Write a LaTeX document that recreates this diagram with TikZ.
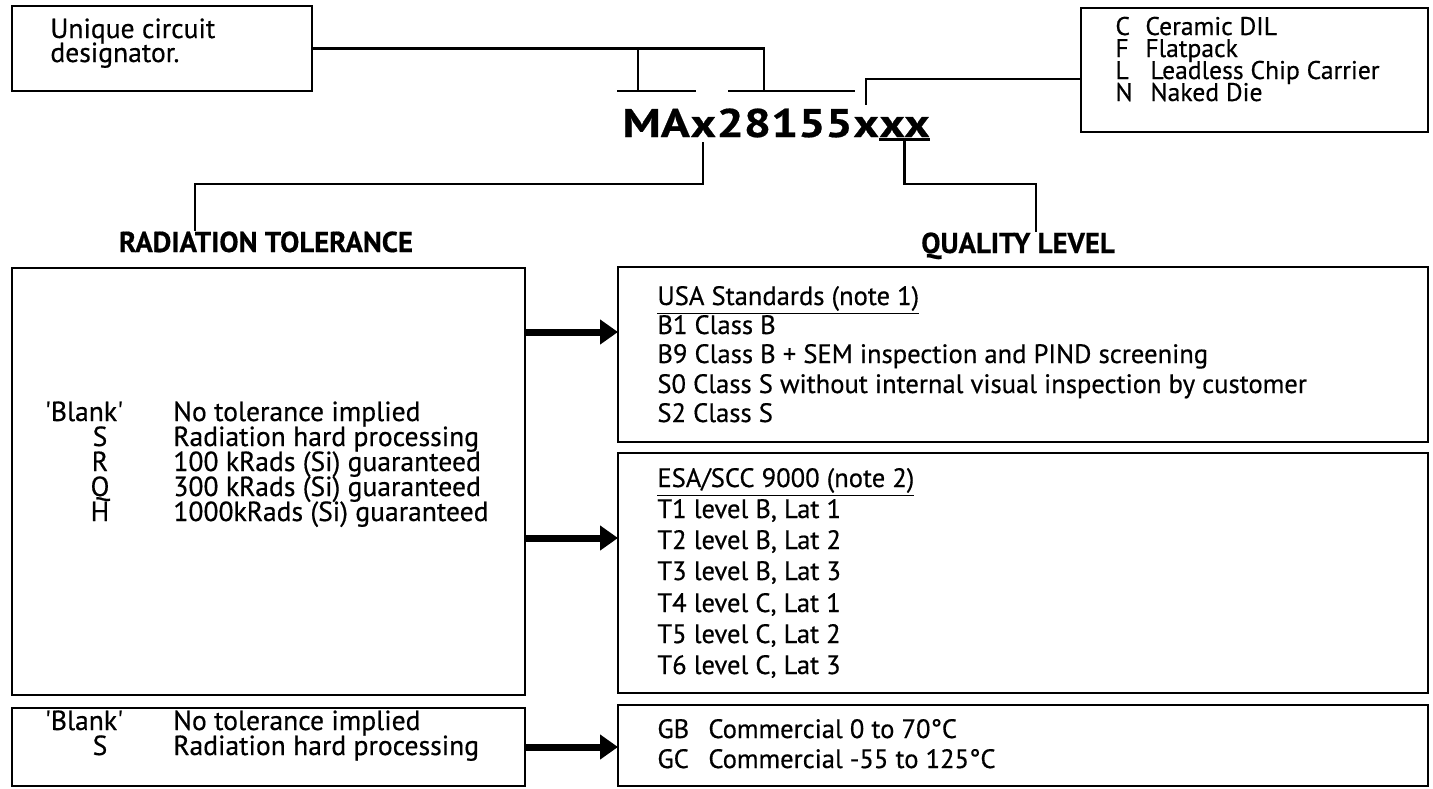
\documentclass[tikz,border=0pt]{standalone}
\usepackage{fontspec}
\setmainfont{PT Sans}[FakeBold=0.5]
\usetikzlibrary{arrows.meta}
\begin{document}
\begin{tikzpicture}[x=0.5pt,y=-0.5pt,
  box/.style={draw,line width=1.2pt,inner sep=0pt,outer sep=0pt},
  ln/.style={line width=1.1pt},
  txt/.style={anchor=base west,inner sep=0pt,font=\fontsize{13.8}{16}\selectfont},
  ptxt/.style={anchor=base west,inner sep=0pt,font=\fontsize{12.8}{15}\selectfont},
  qtxt/.style={anchor=base west,inner sep=0pt,font=\fontsize{13.3}{16}\selectfont},
  ctr/.style={anchor=base,inner sep=0pt,font=\fontsize{13.8}{16}\selectfont},
  lab/.style={anchor=base,inner sep=0pt,font=\bfseries\fontsize{14.4}{17}\selectfont},
  big/.style={anchor=base west,inner sep=0pt,font=\bfseries\fontsize{20}{24}\selectfont},
  bigarrow/.style={line width=3.5pt,-{Triangle[length=9pt,width=12pt]}}]
\useasboundingbox (0,0) rectangle (1433,788);

% boxes
\node[box,minimum width=150pt,minimum height=42.5pt] (b1) at (162,48.5) {};
\node[box,minimum width=173.5pt,minimum height=62pt] (b3) at (1254.5,70) {};
\node[box,minimum width=256.5pt,minimum height=213.5pt] (rt) at (268.5,481.5) {};
\node[box,minimum width=256.5pt,minimum height=39pt] (rt2) at (268.5,747) {};
\node[box,minimum width=405pt,minimum height=87.5pt] (ql1) at (1023,354.5) {};
\node[box,minimum width=405pt,minimum height=120pt] (ql2) at (1023,573) {};
\node[box,minimum width=405pt,minimum height=40.5pt] (ql3) at (1023,745.5) {};

% box 1 text
\node[txt] (t11) at (50,38) {Unique circuit};
\node[txt] (t12) at (50,62) {designator.};

% box 3 text
\node[ptxt] (p1) at (1115,35) {C};  \node[ptxt] (p1t) at (1145,35) {Ceramic DIL};
\node[ptxt] (p2) at (1115,57) {F};  \node[ptxt] (p2t) at (1145,57) {Flatpack};
\node[ptxt] (p3) at (1115,79) {L};  \node[ptxt] (p3t) at (1150,79) {Leadless Chip Carrier};
\node[ptxt] (p4) at (1115,101) {N};  \node[ptxt] (p4t) at (1150,101) {Naked Die};

% part number
\node[big] (ma) at (622,137) {\scalebox{1.2}[1]{MA}};
\node[big] (xr) at (ma.base east) {\scalebox{1.2}[1]{x}};
\node[big] (num) at (xr.base east) {\scalebox{1.2}[1]{28155}};
\node[big] (xp) at (num.base east) {\scalebox{1.2}[1]{x}};
\node[big] (xq) at (xp.base east) {\scalebox{1.2}[1]{xx}};

% labels
\node[lab] (rlab) at (266,252) {RADIATION TOLERANCE};
\node[lab] (qlab) at (1018,253) {QUALITY LEVEL};

% radiation text
\node[ctr] (r0) at (84,421) {\textquotesingle Blank\textquotesingle};
\node[txt] (r0t) at (173,421) {No tolerance implied};
\node[ctr] (r1) at (100,446) {S}; \node[txt] (r1t) at (173,446) {Radiation hard processing};
\node[ctr] (r2) at (100,471) {R}; \node[txt] (r2t) at (173,471) {100 kRads (Si) guaranteed};
\node[ctr] (r3) at (100,496) {Q}; \node[txt] (r3t) at (173,496) {300 kRads (Si) guaranteed};
\node[ctr] (r4) at (100,521) {H}; \node[txt] (r4t) at (173,521) {1000kRads (Si) guaranteed};

\node[ctr] (s0) at (84,730) {\textquotesingle Blank\textquotesingle};
\node[txt] (s0t) at (173,730) {No tolerance implied};
\node[ctr] (s1) at (100,755) {S}; \node[txt] (s1t) at (173,755) {Radiation hard processing};

% quality text
\node[qtxt] (u0) at (657,305) {\underline{USA Standards (note 1)}};
\node[qtxt] (u1) at (657,334) {B1 Class B};
\node[qtxt] (u2) at (657,363) {B9 Class B + SEM inspection and PIND screening};
\node[qtxt] (u3) at (657,393) {S0 Class S without internal visual inspection by customer};
\node[qtxt] (u4) at (657,422) {S2 Class S};

\node[qtxt] (e0) at (657,487) {\underline{ESA/SCC 9000 (note 2)}};
\node[qtxt] (e1) at (657,518) {T1 level B, Lat 1};
\node[qtxt] (e2) at (657,549) {T2 level B, Lat 2};
\node[qtxt] (e3) at (657,580) {T3 level B, Lat 3};
\node[qtxt] (e4) at (657,612) {T4 level C, Lat 1};
\node[qtxt] (e5) at (657,643) {T5 level C, Lat 2};
\node[qtxt] (e6) at (657,674) {T6 level C, Lat 3};

\node[qtxt] (g1) at (657,738) {GB}; \node[qtxt] (g1t) at (708,738) {Commercial 0 to 70°C};
\node[qtxt] (g2) at (657,768) {GC}; \node[qtxt] (g2t) at (708,768) {Commercial -55 to 125°C};

% connectors at the top
\coordinate (jL) at (638,91);
\coordinate (jR) at (764,91);
\draw[ln] (617,91) -- (696,91);
\draw[ln] (728,91) -- (855,91);
\draw[ln] (b1.east) -| (jR);
\draw[ln] (jL) -- (jL |- b1.east);
\draw[ln] ([yshift=-4.5pt]b3.west) -| ([yshift=6pt]xp.north);

% underline of last xx
\draw[ln] ([yshift=-1pt]xq.south west) -- ([yshift=-1pt]xq.south east);

% connectors down to labels
\coordinate (rk) at (195,184);
\coordinate (qk) at (1036,184);
\draw[ln] ([yshift=-2.5pt]xr.south) |- (rk) -- (rk |- rlab.north);
\draw[ln] ([yshift=-1pt]xq.south) |- (qk) -- (qk |- qlab.north);

% arrows
\coordinate (a1) at (0,332);
\coordinate (a2) at (0,538);
\coordinate (a3) at (0,747);
\draw[bigarrow] (rt.east |- a1) -- (ql1.west |- a1);
\draw[bigarrow] (rt.east |- a2) -- (ql2.west |- a2);
\draw[bigarrow] (rt2.east |- a3) -- (ql3.west |- a3);
\end{tikzpicture}
\end{document}
